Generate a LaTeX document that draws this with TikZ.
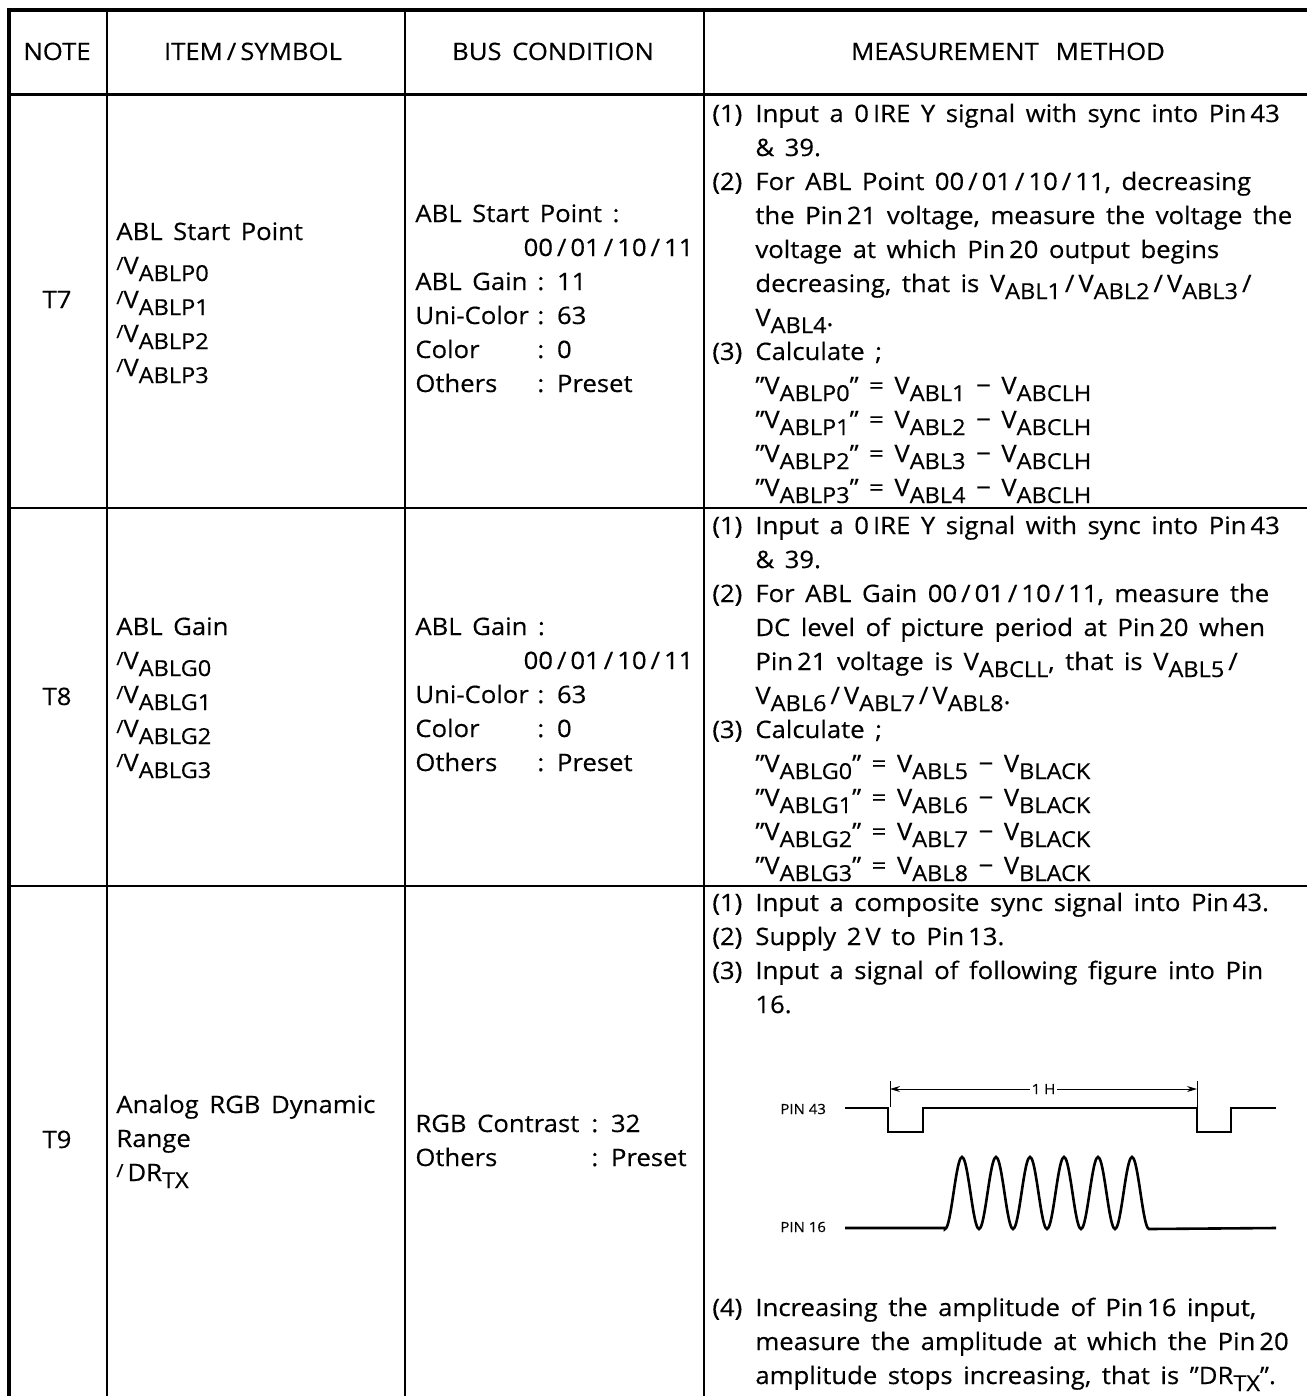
\documentclass[tikz,border=0pt]{standalone}
\usepackage{fontspec}
\setmainfont{Open Sans}[FakeStretch=1.07, FakeBold=0.4]
\usetikzlibrary{arrows.meta}

\newcommand{\cellfont}{\fontsize{12}{17}\selectfont\spaceskip=0.44em plus 0.1em\relax}
\newcommand{\lowsub}[1]{\raisebox{-3.5pt}{\fontsize{11}{11}\selectfont #1}}
\newcommand{\vs}[1]{V\lowsub{#1}}
\newcommand{\isl}{\raisebox{2pt}{\fontsize{9}{9}\selectfont/}}
\newcommand{\itm}[1]{\makebox[21.5pt][l]{#1}}
\newcommand{\cnt}{\hspace*{21.5pt}}
\newcommand{\bl}[2][61pt]{\makebox[#1][l]{#2}}

\begin{document}
\begin{tikzpicture}[x=0.5pt, y=-0.5pt,
    cell/.style={anchor=base west, align=left, inner sep=0pt},
    head/.style={anchor=base, inner sep=0pt},
    pin/.style={anchor=west, inner sep=0pt, font=\fontsize{7}{8}\selectfont},
    wave/.style={line width=1.3pt, line join=miter},
    dim/.style={line width=0.5pt, {Stealth[length=5pt,width=3pt]}-{Stealth[length=5pt,width=3pt]}}]
  \tikzstyle{every node}=[font=\cellfont]
  \useasboundingbox (0,0) rectangle (1307,1396);

  % frame and rules
  \draw[line width=2pt] (7,10) -- (1307,10);
  \draw[line width=2pt] (9,9) -- (9,1396);
  \draw[line width=1.5pt] (9,95) -- (1307,95);
  \draw[line width=1pt] (9,508) -- (1307,508) (9,886) -- (1307,886);
  \draw[line width=1pt] (107,10) -- (107,1396) (405,10) -- (405,1396) (704,10) -- (704,1396);

  % header
  \node[head] (h1) at (57,60) {NOTE};
  \node[head] (h2) at (253,60) {ITEM\,/\,SYMBOL};
  \node[head] (h3) at (553,60) {BUS CONDITION};
  \node[head] (h4) at (1008,60) {MEASUREMENT\hspace{0.7em}METHOD};

  % T7 (cells are placed at the baseline of their last line)
  \node[head] (n7) at (57,308) {T7};
  \node[cell] (i7) at (116,376) {ABL Start Point\\ \isl\vs{ABLP0}\\ \isl\vs{ABLP1}\\ \isl\vs{ABLP2}\\ \isl\vs{ABLP3}};
  \node[cell] (b7) at (415,392) {ABL Start Point :\\
    \makebox[139pt][r]{00\,/\,01\,/\,10\,/\,11}\\
    \bl{ABL Gain}: 11\\
    \bl{Uni-Color}: 63\\
    \bl{Color}: 0\\
    \bl{Others}: Preset};
  \node[cell] (m7) at (712,496) {%
    \itm{(1)}Input a 0\,IRE Y signal with sync into Pin\,43\\
    \cnt\& 39.\\
    \itm{(2)}For ABL Point 00\,/\,01\,/\,10\,/\,11, decreasing\\
    \cnt the Pin\,21 voltage, measure the voltage the\\
    \cnt voltage at which Pin\,20 output begins\\
    \cnt decreasing, that is \vs{ABL1}\,/\,\vs{ABL2}\,/\,\vs{ABL3}\,/\\
    \cnt\vs{ABL4}.\\
    \itm{(3)}Calculate ;\\
    \cnt”\vs{ABLP0}” = \vs{ABL1} − \vs{ABCLH}\\
    \cnt”\vs{ABLP1}” = \vs{ABL2} − \vs{ABCLH}\\
    \cnt”\vs{ABLP2}” = \vs{ABL3} − \vs{ABCLH}\\
    \cnt”\vs{ABLP3}” = \vs{ABL4} − \vs{ABCLH}};

  % T8
  \node[head] (n8) at (57,705) {T8};
  \node[cell] (i8) at (116,771) {ABL Gain\\ \isl\vs{ABLG0}\\ \isl\vs{ABLG1}\\ \isl\vs{ABLG2}\\ \isl\vs{ABLG3}};
  \node[cell] (b8) at (415,771) {ABL Gain :\\
    \makebox[139pt][r]{00\,/\,01\,/\,10\,/\,11}\\
    \bl{Uni-Color}: 63\\
    \bl{Color}: 0\\
    \bl{Others}: Preset};
  \node[cell] (m8) at (712,874) {%
    \itm{(1)}Input a 0\,IRE Y signal with sync into Pin\,43\\
    \cnt\& 39.\\
    \itm{(2)}For ABL Gain 00\,/\,01\,/\,10\,/\,11, measure the\\
    \cnt DC level of picture period at Pin\,20 when\\
    \cnt Pin\,21 voltage is \vs{ABCLL}, that is \vs{ABL5}\,/\\
    \cnt\vs{ABL6}\,/\,\vs{ABL7}\,/\,\vs{ABL8}.\\
    \itm{(3)}Calculate ;\\
    \cnt”\vs{ABLG0}” = \vs{ABL5} − \vs{BLACK}\\
    \cnt”\vs{ABLG1}” = \vs{ABL6} − \vs{BLACK}\\
    \cnt”\vs{ABLG2}” = \vs{ABL7} − \vs{BLACK}\\
    \cnt”\vs{ABLG3}” = \vs{ABL8} − \vs{BLACK}};

  % T9
  \node[head] (n9) at (57,1148) {T9};
  \node[cell] (i9) at (116,1181) {Analog RGB Dynamic\\ Range\\ \isl\,DR\lowsub{TX}};
  \node[cell] (b9) at (415,1166) {\bl[88pt]{RGB Contrast}: 32\\ \bl[88pt]{Others}: Preset};
  \node[cell] (m9) at (712,1013) {%
    \itm{(1)}Input a composite sync signal into Pin\,43.\\
    \itm{(2)}Supply 2\,V to Pin\,13.\\
    \itm{(3)}Input a signal of following figure into Pin\\
    \cnt 16.};
  \node[cell] (m9b) at (712,1384) {%
    \itm{(4)}Increasing the amplitude of Pin\,16 input,\\
    \cnt measure the amplitude at which the Pin\,20\\
    \cnt amplitude stops increasing, that is ”DR\lowsub{TX}”.};

  % input waveforms
  \node[pin] (p43) at (780,1109) {PIN 43};
  \node[pin] (p16) at (780,1227) {PIN 16};
  \draw[wave] (845,1108) -| (888,1132) -| (923,1108) -| (1197,1132) -| (1231,1108) -- (1276,1108);
  \draw[wave] (845,1228) -- (945,1228)
    -- plot[domain=0:204, samples=121, smooth] ({945+\x},{1193+36*cos(\x/34*360)})
    -- (1276,1228);
  \coordinate (t1) at (890,1089);
  \coordinate (t2) at (1197,1089);
  \draw[line width=0.5pt] (890,1081) -- (890,1107) (1197,1081) -- (1197,1107);
  \draw[dim] (t1) -- node[fill=white, inner sep=1pt, font=\fontsize{7}{8}\selectfont] (lh) {1 H} (t2);
\end{tikzpicture}
\end{document}
